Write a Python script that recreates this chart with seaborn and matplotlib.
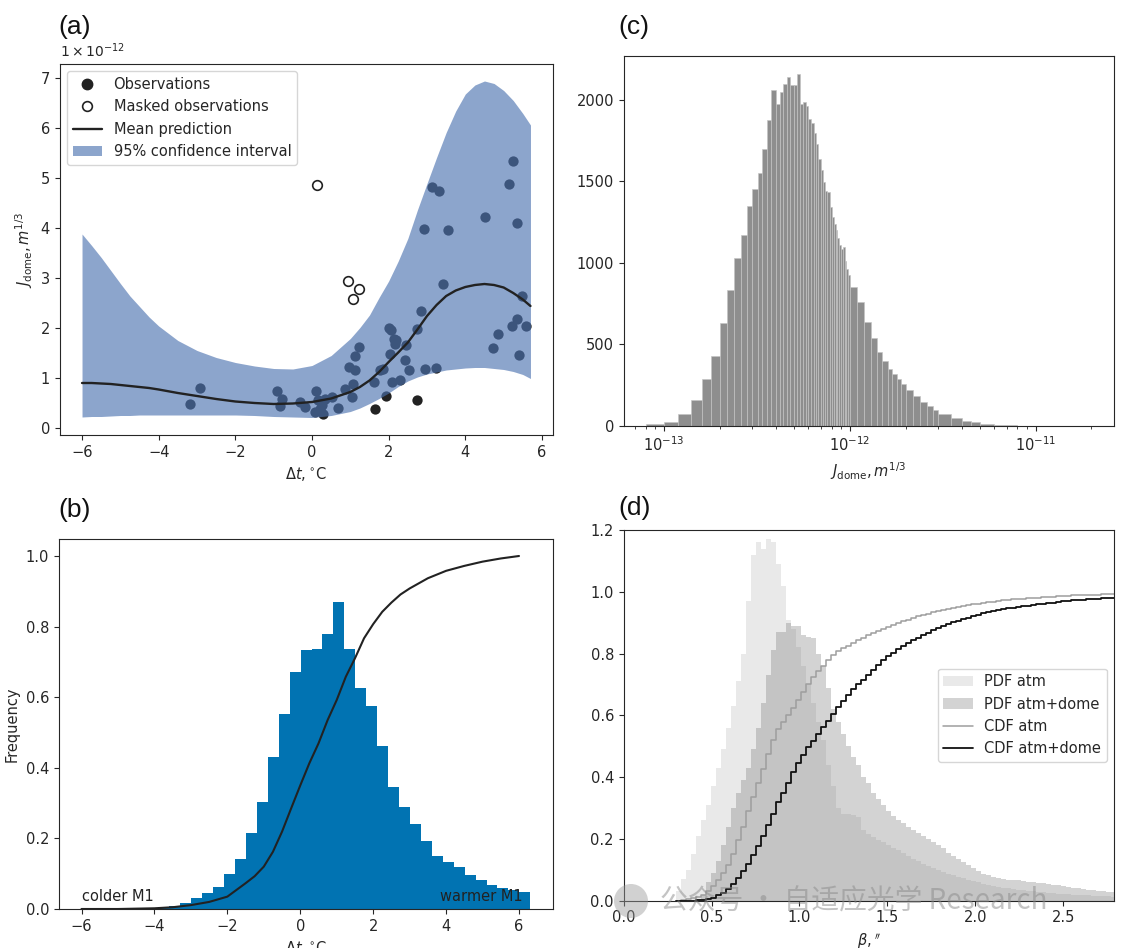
import numpy as np
import pandas as pd
import matplotlib
matplotlib.use("Agg")
import matplotlib.pyplot as plt
from matplotlib.lines import Line2D
from matplotlib.patches import Patch, Ellipse
import seaborn as sns

# ---------------- panel (a): GP fit of J_dome vs delta t (units of 1e-12)
dtGrid = [-6, -5.75, -5.5, -5.25, -5, -4.75, -4.5, -4.25, -4, -3.5, -3, -2.5, -2, -1.5,
          -1, -0.5, 0, 0.5, 1, 1.25, 1.5, 1.75, 2, 2.25, 2.5, 2.75, 3, 3.25, 3.5, 3.75,
          4, 4.25, 4.5, 4.75, 5, 5.25, 5.5, 5.7]
upperCi = [3.87, 3.64, 3.40, 3.14, 2.88, 2.63, 2.42, 2.21, 2.03, 1.74, 1.54, 1.40, 1.30, 1.23,
           1.18, 1.17, 1.24, 1.44, 1.78, 2.00, 2.25, 2.60, 2.93, 3.33, 3.78, 4.35, 4.88, 5.40,
           5.90, 6.33, 6.67, 6.85, 6.93, 6.88, 6.74, 6.54, 6.28, 6.05]
lowerCi = [0.21, 0.22, 0.22, 0.23, 0.24, 0.24, 0.25, 0.25, 0.25, 0.25, 0.25, 0.25, 0.25, 0.24,
           0.22, 0.21, 0.20, 0.24, 0.32, 0.39, 0.48, 0.58, 0.69, 0.82, 0.93, 1.01, 1.07, 1.11,
           1.15, 1.17, 1.19, 1.20, 1.20, 1.18, 1.16, 1.12, 1.06, 0.98]
meanPred = [0.89, 0.89, 0.88, 0.87, 0.85, 0.83, 0.81, 0.79, 0.76, 0.69, 0.63, 0.57, 0.52, 0.49,
            0.47, 0.48, 0.51, 0.58, 0.71, 0.81, 0.94, 1.11, 1.31, 1.50, 1.70, 1.96, 2.23, 2.45,
            2.63, 2.74, 2.81, 2.85, 2.87, 2.85, 2.80, 2.69, 2.56, 2.43]

obsDt = [-3.19, -2.93, -0.91, -0.78, -0.84, -0.31, -0.17, 0.11, 0.09, 0.30, 0.26, 0.35,
         0.52, 0.68, 0.85, 1.04, 1.07, 0.96, 1.11, 1.13, 1.22, 1.61, 1.78, 1.85, 1.94,
         2.04, 2.02, 2.07, 2.13, 2.17, 2.19, 2.09, 2.30, 2.43, 2.52, 2.46, 2.74, 2.85,
         2.96, 3.23, 3.42, 2.91, 3.55, 3.13, 3.32, 4.52, 4.72, 4.84, 5.13, 5.24, 5.35,
         5.22, 5.35, 5.39, 5.47, 5.58, 0.15, 0.20, 1.65, 2.74]
obsJ = [0.48, 0.79, 0.73, 0.58, 0.43, 0.51, 0.41, 0.73, 0.31, 0.28, 0.45, 0.58,
        0.61, 0.40, 0.78, 0.61, 0.88, 1.21, 1.15, 1.43, 1.61, 0.91, 1.15, 1.18, 0.64,
        1.48, 2.00, 1.95, 1.78, 1.68, 1.75, 0.91, 0.96, 1.35, 1.15, 1.66, 1.98, 2.33,
        1.18, 1.20, 2.88, 3.98, 3.96, 4.81, 4.73, 4.21, 1.60, 1.88, 4.87, 5.33, 4.09,
        2.03, 2.18, 1.45, 2.63, 2.03, 0.55, 0.38, 0.38, 0.55]
maskedDt = [0.13, 0.94, 1.22, 1.06]
maskedJ = [4.85, 2.93, 2.77, 2.58]

# ---------------- panel (b): delta t histogram + CDF
dtBinStart = -4.19
dtBinWidth = 0.3
dtFreq = [0.002, 0.005, 0.008, 0.018, 0.031, 0.045, 0.062, 0.098, 0.142, 0.214,
          0.304, 0.430, 0.551, 0.670, 0.734, 0.737, 0.779, 0.870, 0.736, 0.625,
          0.575, 0.463, 0.347, 0.289, 0.241, 0.193, 0.150, 0.134, 0.118, 0.097,
          0.082, 0.068, 0.059, 0.054, 0.047]
cdfDt = [-6, -5, -4, -3.5, -3, -2.5, -2, -1.5, -1.25, -1, -0.75, -0.5, -0.25, 0,
         0.25, 0.5, 0.75, 1, 1.25, 1.5, 1.75, 2, 2.25, 2.5, 2.75, 3, 3.5, 4,
         4.5, 5, 5.5, 6]
cdfDtVal = [0.0, 0.0, 0.002, 0.005, 0.011, 0.020, 0.035, 0.073, 0.093, 0.120, 0.162,
            0.219, 0.285, 0.350, 0.413, 0.469, 0.535, 0.592, 0.658, 0.710, 0.767,
            0.807, 0.842, 0.868, 0.891, 0.908, 0.937, 0.958, 0.972, 0.984, 0.993, 1.0]

# ---------------- panel (c): J_dome sample histogram (counts)
jNarrowCounts = [15, 27, 73, 160, 288, 428, 633, 833, 1027, 1170,
                 1347, 1455, 1551, 1696, 1878, 2061, 1971, 2047, 2098, 2139,
                 2088, 2090, 2159, 1976, 1986, 1960, 1884, 1857, 1796, 1731,
                 1639, 1567, 1496, 1441, 1435, 1343, 1282, 1240, 1200, 1150,
                 1110, 1088, 1095, 1010, 960, 925]
jTailEdges = [1.0e-12, 1.1e-12, 1.2e-12, 1.3e-12, 1.4e-12, 1.5e-12, 1.6e-12, 1.7e-12,
              1.8e-12, 1.9e-12, 2.0e-12, 2.2e-12, 2.4e-12, 2.6e-12, 2.8e-12, 3.0e-12,
              3.5e-12, 4.0e-12, 4.5e-12, 5.0e-12, 6.0e-12, 7.0e-12, 8.0e-12, 1.0e-11,
              1.4e-11, 2.0e-11]
jTailCounts = [850, 760, 640, 540, 455, 400, 350, 320, 290, 255, 220, 185, 150, 125,
               100, 75, 50, 33, 24, 15, 8, 5, 3, 1.5, 0.8]

# ---------------- panel (d): seeing PDFs and CDFs
betaBinStart = 0.30
betaBinWidth = 0.0284
pdfAtm = [0.03, 0.07, 0.10, 0.15, 0.21, 0.26, 0.31, 0.37, 0.43, 0.49,
          0.56, 0.63, 0.71, 0.80, 0.97, 1.12, 1.16, 1.14, 1.17, 1.16,
          1.09, 1.02, 0.91, 0.88, 0.82, 0.76, 0.70, 0.64, 0.58, 0.52,
          0.44, 0.37, 0.30, 0.28, 0.28, 0.277, 0.27, 0.23, 0.215, 0.205,
          0.195, 0.19, 0.18, 0.17, 0.165, 0.155, 0.145, 0.135, 0.128, 0.12,
          0.112, 0.105, 0.098, 0.092, 0.086, 0.082, 0.077, 0.072, 0.068, 0.064,
          0.06, 0.055, 0.052, 0.048, 0.045, 0.042, 0.04, 0.038, 0.036, 0.034,
          0.032, 0.03, 0.028, 0.027, 0.026, 0.024, 0.023, 0.022, 0.021, 0.02,
          0.019, 0.018, 0.017, 0.016, 0.016, 0.015, 0.014, 0.013]
pdfAtmDome = [0.0, 0.0, 0.0, 0.0, 0.005, 0.02, 0.06, 0.09, 0.13, 0.18,
              0.24, 0.30, 0.35, 0.39, 0.43, 0.49, 0.56, 0.64, 0.73, 0.81,
              0.87, 0.87, 0.90, 0.89, 0.89, 0.86, 0.855, 0.85, 0.80, 0.76,
              0.69, 0.62, 0.58, 0.54, 0.50, 0.466, 0.44, 0.40, 0.38, 0.35,
              0.33, 0.31, 0.29, 0.275, 0.26, 0.25, 0.24, 0.23, 0.22, 0.21,
              0.20, 0.19, 0.18, 0.17, 0.155, 0.145, 0.135, 0.125, 0.115, 0.105,
              0.095, 0.088, 0.082, 0.077, 0.073, 0.07, 0.068, 0.067, 0.066, 0.064,
              0.062, 0.06, 0.058, 0.056, 0.054, 0.052, 0.05, 0.048, 0.045, 0.042,
              0.04, 0.038, 0.036, 0.034, 0.032, 0.03, 0.029, 0.028]
cdfAtm = [0.000, 0.002, 0.005, 0.008, 0.013, 0.019, 0.030, 0.048, 0.068, 0.090,
          0.115, 0.150, 0.195, 0.240, 0.290, 0.335, 0.380, 0.425, 0.475, 0.520,
          0.555, 0.580, 0.600, 0.625, 0.650, 0.675, 0.700, 0.725, 0.745, 0.760,
          0.780, 0.795, 0.808, 0.818, 0.826, 0.835, 0.843, 0.851, 0.859, 0.867,
          0.874, 0.881, 0.887, 0.893, 0.899, 0.905, 0.910, 0.915, 0.920, 0.925,
          0.929, 0.933, 0.937, 0.941, 0.945, 0.948, 0.951, 0.954, 0.957, 0.960,
          0.962, 0.964, 0.966, 0.968, 0.970, 0.972, 0.974, 0.976, 0.977, 0.978,
          0.979, 0.980, 0.981, 0.982, 0.983, 0.984, 0.985, 0.986, 0.987, 0.988,
          0.988, 0.989, 0.990, 0.990, 0.991, 0.992, 0.992, 0.993]
cdfAtmDome = [0.0, 0.0, 0.0, 0.0, 0.001, 0.003, 0.006, 0.010, 0.017, 0.026,
              0.038, 0.055, 0.075, 0.097, 0.120, 0.148, 0.177, 0.210, 0.245, 0.282,
              0.318, 0.350, 0.382, 0.415, 0.445, 0.472, 0.497, 0.518, 0.540, 0.562,
              0.583, 0.605, 0.627, 0.648, 0.667, 0.685, 0.700, 0.716, 0.732, 0.748,
              0.764, 0.779, 0.791, 0.803, 0.814, 0.824, 0.834, 0.843, 0.852, 0.860,
              0.868, 0.876, 0.883, 0.890, 0.896, 0.901, 0.906, 0.911, 0.916, 0.921,
              0.926, 0.930, 0.934, 0.937, 0.940, 0.943, 0.946, 0.949, 0.951, 0.953,
              0.955, 0.957, 0.959, 0.961, 0.963, 0.965, 0.967, 0.969, 0.971, 0.972,
              0.973, 0.975, 0.976, 0.977, 0.978, 0.979, 0.980, 0.981]

# ---------------- style
sns.set_style("ticks")
plt.rcParams["font.size"] = 10.5
plt.rcParams["font.family"] = ["DejaVu Sans"]

fig = plt.figure(figsize=(11.22, 9.48), dpi=100)
W, H = 1122.0, 948.0


def axesAt(left, top, right, bottom):
    return fig.add_axes([left / W, 1 - bottom / H, (right - left) / W, (bottom - top) / H])


def binnedFrame(edges, values):
    # one row per bin: centre and the value read for that bin
    edges = np.asarray(edges, dtype=float)
    return pd.DataFrame({"x": (edges[:-1] + edges[1:]) / 2, "w": values})


jLabel = r"$J_\mathrm{dome}, m^{1/3}$"
dtLabel = r"$\Delta t, ^{\circ}\mathrm{C}$"

# ---------------- (a)
axA = axesAt(59.6, 64, 552.9, 435)
sns.scatterplot(x=obsDt, y=obsJ, ax=axA, color="#222222", s=55, linewidth=0, zorder=1)
axA.fill_between(dtGrid, lowerCi, upperCi, color="#4C72B0", alpha=0.64, linewidth=0, zorder=2)
sns.lineplot(x=dtGrid, y=meanPred, ax=axA, color="#222222", linewidth=1.7, zorder=3)
sns.scatterplot(x=maskedDt, y=maskedJ, ax=axA, color="white", edgecolor="#222222",
                s=48, linewidth=1.2, zorder=4)
axA.set_xlim(-6.585, 6.285)
axA.set_ylim(-0.15, 7.27)
axA.set_xticks([-6, -4, -2, 0, 2, 4, 6])
axA.set_yticks(range(0, 8))
axA.set_xlabel(dtLabel)
axA.set_ylabel(jLabel)
axA.text(0.0, 1.012, r"$1\times10^{-12}$", transform=axA.transAxes, ha="left", va="bottom",
         fontsize=10)
legA = [Line2D([], [], marker="o", ls="", color="#222222", markersize=7.5),
        Line2D([], [], marker="o", ls="", markerfacecolor="white", markeredgecolor="#222222",
               markersize=7, markeredgewidth=1.2),
        Line2D([], [], color="#222222", linewidth=1.7),
        Patch(facecolor="#4C72B0", alpha=0.64, linewidth=0)]
axA.legend(legA, ["Observations", "Masked observations", "Mean prediction",
                  "95% confidence interval"], loc="upper left")

# ---------------- (b)
axB = axesAt(58.9, 538.7, 552.9, 909)
dtEdges = list(dtBinStart + dtBinWidth * np.arange(len(dtFreq) + 1))
sns.histplot(data=binnedFrame(dtEdges, dtFreq), x="x", weights="w", bins=dtEdges, ax=axB,
             color="#0173B2", alpha=1, linewidth=0)
sns.lineplot(x=cdfDt, y=cdfDtVal, ax=axB, color="#222222", linewidth=1.5)
axB.text(-6, 0.014, "colder M1", ha="left", va="bottom", color="#222222")
axB.text(6.1, 0.014, "warmer M1", ha="right", va="bottom", color="#222222")
axB.set_xlim(-6.62, 6.93)
axB.set_ylim(0, 1.049)
axB.set_xticks([-6, -4, -2, 0, 2, 4, 6])
axB.set_yticks([0, 0.2, 0.4, 0.6, 0.8, 1.0])
axB.set_xlabel(dtLabel)
axB.set_ylabel("Frequency")

# ---------------- (c)
axC = axesAt(623.6, 55.7, 1113.6, 426)
jEdges = list(np.linspace(0.8e-13, 1.0e-12, len(jNarrowCounts) + 1)) + jTailEdges[1:]
sns.histplot(data=binnedFrame(jEdges, jNarrowCounts + jTailCounts), x="x", weights="w",
             bins=jEdges, ax=axC, color="#8e8e8e", alpha=1, edgecolor="#c4c4c4",
             linewidth=0.45)
axC.set_xscale("log")
axC.set_xlim(6.09e-14, 2.63e-11)
axC.set_ylim(0, 2270)
axC.set_yticks([0, 500, 1000, 1500, 2000])
axC.set_ylabel("")
axC.set_xlabel(jLabel)

# ---------------- (d)
axD = axesAt(623.6, 530, 1114.3, 900.7)
betaEdges = list(betaBinStart + betaBinWidth * np.arange(len(pdfAtm) + 1))
sns.histplot(data=binnedFrame(betaEdges, pdfAtm), x="x", weights="w", bins=betaEdges, ax=axD,
             element="step", fill=True, color="#7f7f7f", alpha=0.17, linewidth=0)
sns.histplot(data=binnedFrame(betaEdges, pdfAtmDome), x="x", weights="w", bins=betaEdges,
             ax=axD, element="step", fill=True, color="#7f7f7f", alpha=0.34, linewidth=0)
sns.histplot(data=binnedFrame(betaEdges, cdfAtm), x="x", weights="w", bins=betaEdges, ax=axD,
             element="step", fill=False, color="#9e9e9e", linewidth=1.1)
sns.histplot(data=binnedFrame(betaEdges, cdfAtmDome), x="x", weights="w", bins=betaEdges,
             ax=axD, element="step", fill=False, color="#111111", linewidth=1.3)
axD.set_xlim(0, 2.79)
axD.set_ylim(0, 1.2)
axD.set_xticks([0, 0.5, 1.0, 1.5, 2.0, 2.5])
axD.set_yticks([0, 0.2, 0.4, 0.6, 0.8, 1.0, 1.2])
axD.set_ylabel("")
axD.set_xlabel(r"$\beta, ^{\prime\prime}$")
legD = [Patch(facecolor="#7f7f7f", alpha=0.17, linewidth=0),
        Patch(facecolor="#7f7f7f", alpha=0.34, linewidth=0),
        Line2D([], [], color="#9e9e9e", linewidth=1.1),
        Line2D([], [], color="#111111", linewidth=1.3)]
axD.legend(legD, ["PDF atm", "PDF atm+dome", "CDF atm", "CDF atm+dome"], loc="center right")

# ---------------- panel letters
for letter, px, py in [("(a)", 58, 27), ("(c)", 618, 27), ("(b)", 58, 510), ("(d)", 618, 508)]:
    fig.text(px / W, 1 - py / H, letter, ha="left", va="center", fontsize=19,
             family="Liberation Sans", color="#111111")

# ---------------- watermark
fig.patches.append(Ellipse((631 / W, 1 - 901 / H), 34 / W, 34 / H, transform=fig.transFigure,
                           facecolor="#9a9a9a", alpha=0.45, edgecolor="none"))
fig.text(660 / W, 1 - 902 / H, "公众号 · 自适应光学 Research", ha="left", va="center",
         fontsize=20, color="#8a8a8a", alpha=0.5,
         family=["Noto Sans CJK SC", "DejaVu Sans"])

fig.savefig("out.png", dpi=100)
